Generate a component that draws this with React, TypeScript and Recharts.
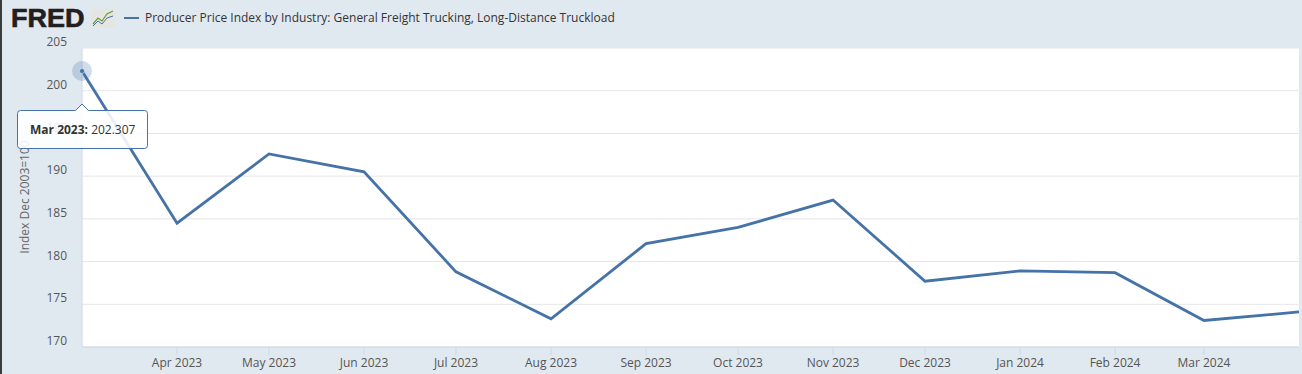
import { CartesianGrid, Line, LineChart, Tooltip, XAxis, YAxis } from 'recharts';

const dates = [
  '2023-03-01', '2023-04-01', '2023-05-01', '2023-06-01', '2023-07-01', '2023-08-01', '2023-09-01',
  '2023-10-01', '2023-11-01', '2023-12-01', '2024-01-01', '2024-02-01', '2024-03-01', '2024-04-01'
];
const values = [202.307, 184.5, 192.6, 190.5, 178.8, 173.3, 182.1, 184.0, 187.2, 177.7, 178.9, 178.7, 173.1, 174.1];
const tickDates = [
  '2023-04-01', '2023-05-01', '2023-06-01', '2023-07-01', '2023-08-01', '2023-09-01',
  '2023-10-01', '2023-11-01', '2023-12-01', '2024-01-01', '2024-02-01', '2024-03-01'
];
const yTicks = [170, 175, 180, 185, 190, 195, 200, 205];
const monthNames = ['Jan', 'Feb', 'Mar', 'Apr', 'May', 'Jun', 'Jul', 'Aug', 'Sep', 'Oct', 'Nov', 'Dec'];

const title = 'Producer Price Index by Industry: General Freight Trucking, Long-Distance Truckload';
const yLabel = 'Index Dec 2003=100';

const BLUE = '#4572a7';
const BG = '#e1e9f0';
const FONT = '"Open Sans", sans-serif';

const toTime = (s: string) => new Date(s + 'T00:00:00Z').getTime();
const fmtMonth = (t: number) => {
  const d = new Date(t);
  return `${monthNames[d.getUTCMonth()]} ${d.getUTCFullYear()}`;
};

const data = dates.map((d, i) => ({ t: toTime(d), value: values[i] }));
const xTicks = tickDates.map(toTime);

const TipBox = ({ active, payload }: any) => {
  if (!active || !payload || !payload.length) return null;
  const p = payload[0].payload;
  return (
    <div style={{ position: 'relative', width: 131, height: 39, fontFamily: FONT }}>
      <svg width={131} height={46} style={{ position: 'absolute', left: 0, top: -7, overflow: 'visible' }}>
        <path
          d="M0.5,10.5 Q0.5,7.5 3.5,7.5 L58.5,7.5 L65,1 L71.5,7.5 L127.5,7.5 Q130.5,7.5 130.5,10.5 L130.5,42.5 Q130.5,45.5 127.5,45.5 L3.5,45.5 Q0.5,45.5 0.5,42.5 Z"
          fill="rgba(255,255,255,0.88)"
          stroke={BLUE}
          strokeWidth={1}
        />
      </svg>
      <div style={{ position: 'absolute', left: 13, top: 11, fontSize: 12, color: '#333', whiteSpace: 'nowrap' }}>
        <b>{fmtMonth(p.t)}:</b> {p.value.toFixed(3)}
      </div>
    </div>
  );
};

const ActiveDot = (props: any) => {
  const { cx, cy } = props;
  return (
    <g>
      <circle cx={cx} cy={cy} r={10} fill={BLUE} fillOpacity={0.25} />
      <circle cx={cx} cy={cy} r={2.5} fill={BLUE} stroke="#fff" strokeWidth={0.5} />
    </g>
  );
};

const YTick = (props: any) => {
  const { x, y, payload } = props;
  return (
    <text x={x} y={y - 6} dy="0.35em" textAnchor="end" fontSize={12} fill="#555" fontFamily={FONT}>
      {payload.value}
    </text>
  );
};

const YTitle = () => (
  <text
    x={29}
    y={197}
    transform="rotate(-90 29 197)"
    textAnchor="middle"
    fontSize={12}
    fill="#666"
    fontFamily={FONT}
  >
    {yLabel}
  </text>
);

const FredLogo = () => (
  <div style={{ position: 'absolute', left: 11, top: 3, display: 'flex', alignItems: 'center' }}>
    <div style={{ width: 80, height: 30, overflow: 'visible' }}>
      <span
        style={{
          display: 'inline-block',
          fontFamily: '"Liberation Sans", Arial, sans-serif',
          fontWeight: 900,
          fontSize: 25,
          lineHeight: '30px',
          color: '#231f20',
          transform: 'scaleX(1.08)',
          transformOrigin: 'left center',
          WebkitTextStroke: '0.6px #231f20',
          whiteSpace: 'nowrap'
        }}
      >
        FRED
      </span>
    </div>
    <svg width={24} height={19}>
      <rect x={0} y={0} width={24} height={19} fill="#e6e6e0" rx={2} />
      <polyline points="2,15 7,9 11,12 16,5 22,2" fill="none" stroke="#6a9a3c" strokeWidth={1.2} />
      <polyline points="2,17 7,12 11,15 16,9 22,7" fill="none" stroke="#4572a7" strokeWidth={1} />
    </svg>
  </div>
);

const App = () => {
  return (
    <div style={{ position: 'absolute', left: 0, top: 0, width: 1302, height: 374, background: BG, overflow: 'hidden' }}>
      <div style={{ position: 'absolute', left: 0, top: 0, width: 2, height: 374, background: '#3b3b3b' }} />
      <FredLogo />
      <div style={{ position: 'absolute', left: 124, top: 17, width: 15, height: 2, background: BLUE }} />
      <div
        style={{
          position: 'absolute',
          left: 145,
          top: 9,
          fontFamily: FONT,
          fontSize: 12,
          color: '#333',
          whiteSpace: 'nowrap'
        }}
      >
        {title}
      </div>
      <LineChart width={1302} height={374} data={data} margin={{ top: 48, right: 3, bottom: 0, left: 0 }}>
        <CartesianGrid horizontal={true} vertical={false} stroke="#e6e6e6" fill="#ffffff" />
        <XAxis
          dataKey="t"
          type="number"
          domain={[data[0].t, data[data.length - 1].t]}
          ticks={xTicks}
          tickFormatter={fmtMonth}
          height={27}
          stroke="#ccd6eb"
          tickSize={8}
          tickMargin={3}
          tick={{ fill: '#555', fontSize: 12, fontFamily: FONT }}
        />
        <YAxis
          domain={[170, 205]}
          ticks={yTicks}
          width={82}
          stroke="#ccd6eb"
          tickLine={false}
          tickSize={0}
          tickMargin={15}
          tick={<YTick />}
          label={<YTitle />}
        />
        <Tooltip
          active={true}
          defaultIndex={0}
          content={<TipBox />}
          cursor={false}
          position={{ x: 17, y: 110 }}
          isAnimationActive={false}
          allowEscapeViewBox={{ x: true, y: true }}
          wrapperStyle={{ outline: 'none' }}
        />
        <Line
          type="linear"
          dataKey="value"
          stroke={BLUE}
          strokeWidth={2.8}
          dot={false}
          activeDot={<ActiveDot />}
          isAnimationActive={false}
        />
      </LineChart>
    </div>
  );
};

export default App;
